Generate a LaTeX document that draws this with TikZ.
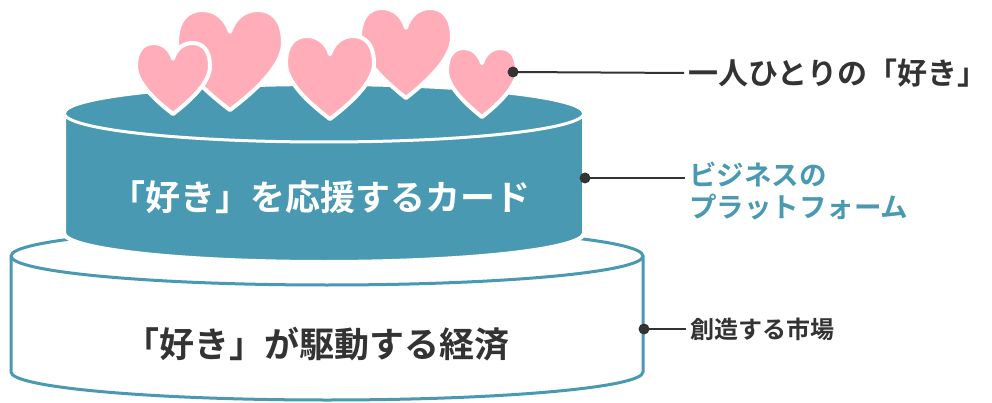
\documentclass[tikz,border=0pt]{standalone}
\usepackage{fontspec}
\setmainfont{Noto Sans CJK JP}[BoldFont={* Bold}]
\definecolor{cakeblue}{HTML}{4899B1}
\definecolor{heartpink}{HTML}{FFAEB9}
\definecolor{inkdark}{HTML}{333333}
\tikzset{
  lowtier/.style={fill=white, draw=cakeblue, line width=3pt},
  hightier/.style={fill=cakeblue, draw=white, line width=4pt, line join=round},
  rimline/.style={draw=white, line width=3pt},
  heartfill/.style={fill=heartpink, draw=white, line width=4pt, line join=round},
  heart/.pic={
    \path[heartfill] (0,1)
      .. controls (-0.5,0.8) and (-1,0.55) .. (-1,0.33)
      .. controls (-1,0.1) and (-0.8,0) .. (-0.52,0)
      .. controls (-0.25,0) and (-0.07,0.1) .. (0,0.22)
      .. controls (0.07,0.1) and (0.25,0) .. (0.52,0)
      .. controls (0.8,0) and (1,0.1) .. (1,0.33)
      .. controls (1,0.55) and (0.5,0.8) .. (0,1) -- cycle;
  },
  dot/.style={circle, fill=inkdark, inner sep=0pt, minimum size=11pt},
  leader/.style={draw=inkdark, line width=2pt, shorten >=4pt},
  sidelabel/.style={anchor=west, inner sep=0pt, font=\bfseries, text=inkdark},
  tiertext/.style={inner sep=0pt, font=\bfseries\fontsize{35}{40}\selectfont},
}
\begin{document}
\begin{tikzpicture}[x=1pt, y=-1pt]
  \useasboundingbox (0,0) rectangle (992,403);

  % lower tier: white cylinder with blue outline
  \path[lowtier] (11,256) -- (11,372)
    arc[start angle=180, end angle=360, x radius=316pt, y radius=28pt]
    -- (643,256)
    arc[start angle=0, end angle=180, x radius=316pt, y radius=29pt] -- cycle;
  \draw[draw=cakeblue, line width=3pt] (11,256)
    arc[start angle=180, end angle=360, x radius=316pt, y radius=29pt];

  % upper tier: filled blue cylinder
  \path[hightier] (64,113) -- (64,233)
    arc[start angle=180, end angle=360, x radius=260pt, y radius=29pt]
    -- (584,113)
    arc[start angle=0, end angle=180, x radius=260pt, y radius=29pt] -- cycle;
  \draw[rimline] (64,113)
    arc[start angle=180, end angle=360, x radius=260pt, y radius=29pt];

  % hearts on top
  \pic[xscale=53, yscale=100] at (230,10) {heart};
  \pic[xscale=37, yscale=71] at (173,43) {heart};
  \pic[xscale=46, yscale=90] at (406,8) {heart};
  \pic[xscale=44, yscale=83] at (330,36) {heart};
  \pic[xscale=35, yscale=69] at (482,48) {heart};

  % tier captions
  \node[tiertext, text=white] (cardtxt) at (320,197) {「好き」を応援するカード};
  \node[tiertext, text=inkdark] (econtxt) at (317,344) {「好き」が駆動する経済};

  % side labels with leader lines
  \node[dot] (dheart) at (513,72) {};
  \node[sidelabel, font=\bfseries\fontsize{30}{35}\selectfont] (lheart) at (688,73) {一人ひとりの「好き」};
  \draw[leader] (dheart.center) -- (lheart.west);

  \node[dot] (dplat) at (585,178) {};
  \node[sidelabel, anchor=north west, align=left, text=cakeblue,
        font=\bfseries\fontsize{27.5}{32}\selectfont] (lplat) at (689,162)
        {ビジネスの\\プラットフォーム};
  \draw[leader] (dplat.center) -- (dplat -| lplat.west);

  \node[dot] (dmarket) at (644,329) {};
  \node[sidelabel, font=\bfseries\fontsize{24}{28}\selectfont] (lmarket) at (690,329) {創造する市場};
  \draw[leader] (dmarket.center) -- (lmarket.west);
\end{tikzpicture}
\end{document}
